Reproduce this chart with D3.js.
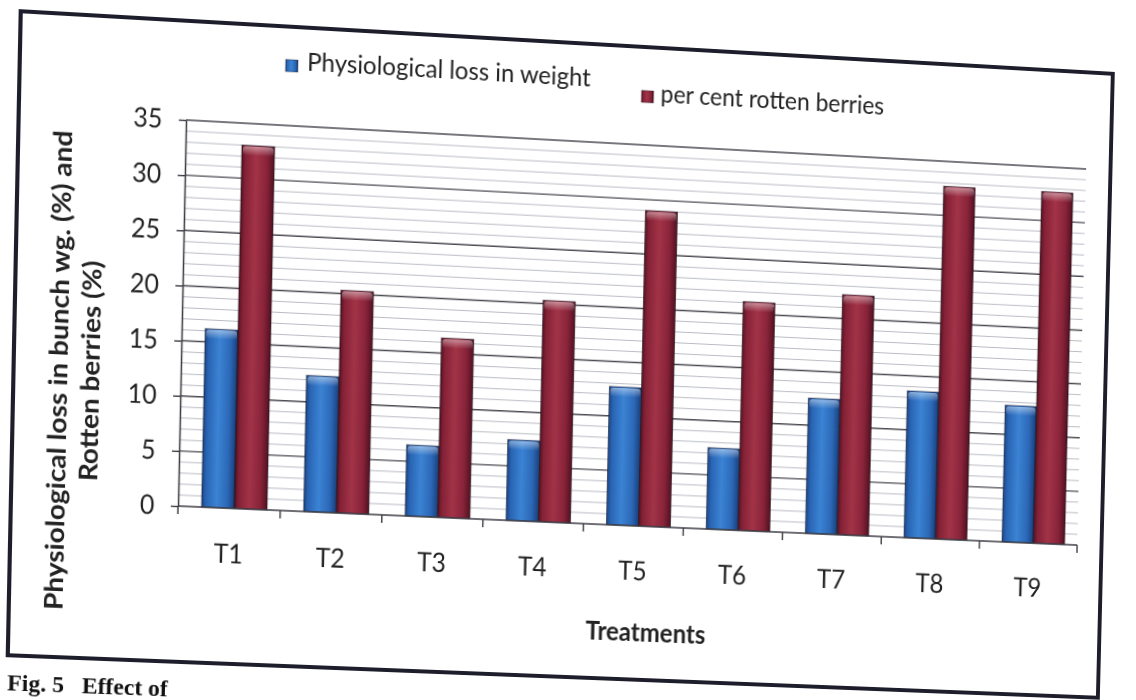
<!DOCTYPE html>
<html>
<head>
<meta charset="utf-8">
<script src="https://cdn.jsdelivr.net/npm/d3@7"></script>
<style>
  html, body { margin: 0; padding: 0; background: #fff; width: 1136px; height: 700px; overflow: hidden; }
  svg { display: block; transform-origin: 0 0; }
  text { font-family: Lato, "Open Sans", sans-serif; fill: #222; }
  text.caption { font-family: "Liberation Serif", "DejaVu Serif", serif; font-weight: 700; fill: #111; }
</style>
</head>
<body>
<svg id="chart" width="1136" height="760"></svg>
<script>
// ---- data ----
const categories = ["T1", "T2", "T3", "T4", "T5", "T6", "T7", "T8", "T9"];
const weightLoss = [16.2, 12.4, 6.5, 7.4, 12.7, 7.5, 12.5, 13.6, 12.7];
const rottenBerries = [33.0, 20.3, 16.4, 20.3, 29.0, 21.1, 22.2, 32.7, 32.7];
const seriesNames = ["Physiological loss in weight", "per cent rotten berries"];
const yTicks = [0, 5, 10, 15, 20, 25, 30, 35];
const yTitleLines = ["Physiological loss in bunch wg. (%) and", "Rotten berries (%)"];
const xTitle = "Treatments";
const caption = "Fig. 5   Effect of";

// ---- layout ----
const plot = { left: 178, right: 1077, top: 120, bottom: 506 };
const svg = d3.select("#chart");

// sheet tilt: plot corners before -> after the warp
const flatCorners = [[plot.left, plot.bottom], [plot.right, plot.bottom], [plot.left, plot.top], [plot.right, plot.top]];
const tiltedCorners = [[178, 506], [1077, 545], [186, 120], [1086, 169]];

function homography(src, dst) {
  const A = [], b = [];
  for (let i = 0; i < 4; i++) {
    const [x, y] = src[i], [X, Y] = dst[i];
    A.push([x, y, 1, 0, 0, 0, -x * X, -y * X]); b.push(X);
    A.push([0, 0, 0, x, y, 1, -x * Y, -y * Y]); b.push(Y);
  }
  const n = 8;
  for (let c = 0; c < n; c++) {
    let p = c;
    for (let r = c + 1; r < n; r++) if (Math.abs(A[r][c]) > Math.abs(A[p][c])) p = r;
    [A[c], A[p]] = [A[p], A[c]]; [b[c], b[p]] = [b[p], b[c]];
    for (let r = c + 1; r < n; r++) {
      const f = A[r][c] / A[c][c];
      for (let k = c; k < n; k++) A[r][k] -= f * A[c][k];
      b[r] -= f * b[c];
    }
  }
  const h = new Array(n);
  for (let r = n - 1; r >= 0; r--) {
    let s = b[r];
    for (let k = r + 1; k < n; k++) s -= A[r][k] * h[k];
    h[r] = s / A[r][r];
  }
  return h;
}
const h = homography(flatCorners, tiltedCorners);
svg.style("transform",
  `matrix3d(${h[0]},${h[3]},0,${h[6]},${h[1]},${h[4]},0,${h[7]},0,0,1,0,${h[2]},${h[5]},0,1)`);

// ---- scales ----
const x = d3.scaleBand().domain(categories).range([plot.left, plot.right]);
const xs = d3.scaleBand().domain([0, 1]).range([0, x.bandwidth()])
  .paddingInner(0).paddingOuter(0.56).align(0.64);
const y = d3.scaleLinear().domain([0, 35]).range([plot.bottom, plot.top]);

// ---- gradients ----
const defs = svg.append("defs");
function barGradient(id, stops) {
  const g = defs.append("linearGradient").attr("id", id).attr("x1", 0).attr("x2", 1).attr("y1", 0).attr("y2", 0);
  stops.forEach(([o, c]) => g.append("stop").attr("offset", o).attr("stop-color", c));
}
barGradient("gBlue", [[0, "#1a4686"], [0.12, "#2964b3"], [0.45, "#3b83d4"], [0.78, "#2c68b7"], [1, "#183f7a"]]);
barGradient("gRed", [[0, "#55121f"], [0.12, "#842136"], [0.45, "#a23347"], [0.78, "#88233a"], [1, "#52111f"]]);
const cap = defs.append("linearGradient").attr("id", "gCap").attr("x1", 0).attr("x2", 0).attr("y1", 0).attr("y2", 1);
cap.append("stop").attr("offset", 0).attr("stop-color", "#fff").attr("stop-opacity", 0.45);
cap.append("stop").attr("offset", 1).attr("stop-color", "#fff").attr("stop-opacity", 0);

// ---- outer frame ----
svg.append("rect")
  .attr("x", 16).attr("y", 21).attr("width", 1086).attr("height", 641)
  .attr("fill", "#fff").attr("stroke", "#1d1d2b").attr("stroke-width", 4);

// ---- gridlines ----
const minor = d3.range(1, 35).filter(v => v % 5 !== 0);
svg.append("g").selectAll("line").data(minor).join("line")
  .attr("x1", plot.left).attr("x2", plot.right)
  .attr("y1", d => y(d)).attr("y2", d => y(d))
  .attr("stroke", "#b9bcc4").attr("stroke-width", 1);
svg.append("g").selectAll("line").data(yTicks.filter(v => v > 0)).join("line")
  .attr("x1", plot.left).attr("x2", plot.right)
  .attr("y1", d => y(d)).attr("y2", d => y(d))
  .attr("stroke", "#4a4a52").attr("stroke-width", 1.4);

// ---- bars ----
const series = [
  { values: weightLoss, fill: "url(#gBlue)" },
  { values: rottenBerries, fill: "url(#gRed)" }
];
series.forEach((s, si) => {
  const g = svg.append("g");
  g.selectAll("rect.bar").data(categories).join("rect").attr("class", "bar")
    .attr("x", c => x(c) + xs(si)).attr("width", xs.bandwidth())
    .attr("y", (c, i) => y(s.values[i])).attr("height", (c, i) => y(0) - y(s.values[i]))
    .attr("fill", s.fill).attr("stroke", "rgba(20,15,30,0.55)").attr("stroke-width", 1);
  g.selectAll("rect.cap").data(categories).join("rect").attr("class", "cap")
    .attr("x", c => x(c) + xs(si) + 1).attr("width", xs.bandwidth() - 2)
    .attr("y", (c, i) => y(s.values[i]) + 1).attr("height", 9)
    .attr("rx", 3).attr("fill", "url(#gCap)");
});

// ---- axes ----
const yAxis = svg.append("g").attr("transform", `translate(${plot.left},0)`)
  .call(d3.axisLeft(y).tickValues(yTicks).tickSize(7).tickSizeOuter(0).tickPadding(16));
yAxis.select(".domain").attr("stroke", "#3c3c44").attr("stroke-width", 1.5);
yAxis.selectAll(".tick line").attr("stroke", "#3c3c44").attr("stroke-width", 1.4);
yAxis.selectAll(".tick text").attr("font-size", 27).attr("fill", "#2a2a2a");

const xAxisG = svg.append("g");
xAxisG.append("line").attr("x1", plot.left).attr("x2", plot.right)
  .attr("y1", y(0)).attr("y2", y(0)).attr("stroke", "#3c3c44").attr("stroke-width", 1.5);
const boundaries = categories.map(c => x(c)).concat([plot.right]);
xAxisG.selectAll("line.tk").data(boundaries).join("line").attr("class", "tk")
  .attr("x1", d => d).attr("x2", d => d).attr("y1", y(0)).attr("y2", y(0) + 8)
  .attr("stroke", "#3c3c44").attr("stroke-width", 1.4);
xAxisG.selectAll("text").data(categories).join("text")
  .attr("x", c => x(c) + x.bandwidth() / 2).attr("y", 561)
  .attr("text-anchor", "middle").attr("font-size", 27).attr("fill", "#2a2a2a")
  .text(c => c);

// narrow the regular labels a little
function squeeze(sel, sx) {
  sel.attr("transform", function () {
    const tx = +this.getAttribute("x") || 0, ty = +this.getAttribute("y") || 0;
    return `translate(${tx},${ty}) scale(${sx},1) translate(${-tx},${-ty})`;
  });
}
squeeze(yAxis.selectAll(".tick text"), 0.9);
squeeze(xAxisG.selectAll("text"), 0.9);

// ---- axis titles ----
const yTitle = svg.append("g");
yTitle.append("text").attr("transform", "translate(68,376) rotate(-90)")
  .attr("text-anchor", "middle").attr("font-size", 25).attr("font-weight", 700)
  .attr("textLength", 478).attr("lengthAdjust", "spacingAndGlyphs")
  .text(yTitleLines[0]);
yTitle.append("text").attr("transform", "translate(99,375) rotate(-90)")
  .attr("text-anchor", "middle").attr("font-size", 25).attr("font-weight", 700)
  .attr("textLength", 220).attr("lengthAdjust", "spacingAndGlyphs")
  .text(yTitleLines[1]);

svg.append("text").attr("x", 642).attr("y", 623).attr("text-anchor", "middle")
  .attr("font-size", 26).attr("font-weight", 700)
  .attr("textLength", 120).attr("lengthAdjust", "spacingAndGlyphs")
  .text(xTitle);

// ---- legend ----
const legend = [
  { name: seriesNames[0], fill: "url(#gBlue)", mx: 274, my: 54, tx: 295, ty: 64, len: 280 },
  { name: seriesNames[1], fill: "url(#gRed)", mx: 626, my: 65, tx: 645, ty: 76, len: 225 }
];
const lg = svg.append("g");
legend.forEach(d => {
  lg.append("rect").attr("x", d.mx).attr("y", d.my).attr("width", 12).attr("height", 12)
    .attr("fill", d.fill).attr("stroke", "rgba(20,15,30,0.5)").attr("stroke-width", 0.8);
  lg.append("text").attr("x", d.tx).attr("y", d.ty).attr("font-size", 25)
    .attr("textLength", d.len).attr("lengthAdjust", "spacingAndGlyphs")
    .text(d.name);
});

// ---- figure caption below the frame ----
svg.append("text").attr("class", "caption").attr("x", 16).attr("y", 697)
  .attr("font-size", 23).style("white-space", "pre")
  .text(caption);
</script>
</body>
</html>
